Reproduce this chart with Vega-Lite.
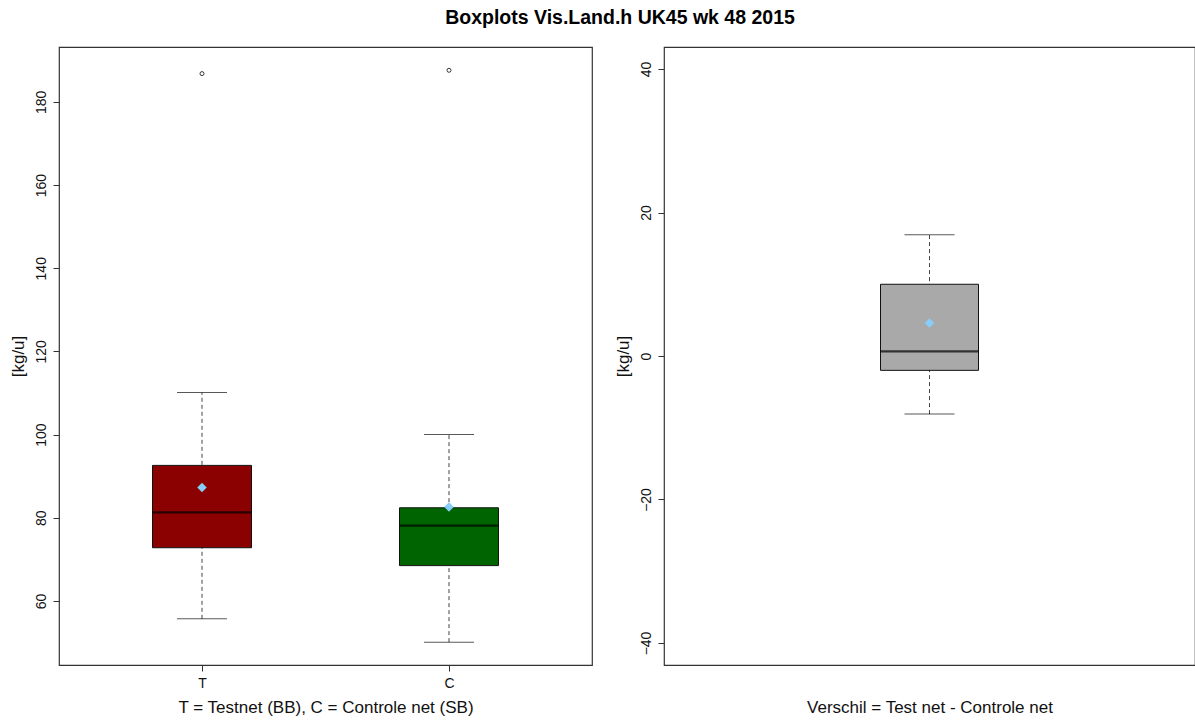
{
  "$schema": "https://vega.github.io/schema/vega-lite/v6.json",
  "background": "white",
  "padding": {"left": 8, "top": 7, "right": 0, "bottom": 0},
  "config": {
    "font": "Liberation Sans",
    "view": {"stroke": "#333", "strokeWidth": 1.2},
    "axis": {"domain": false, "grid": false, "tickColor": "#333", "tickSize": 6, "labelColor": "#111", "titleColor": "#111", "labelFontSize": 14, "titleFontSize": 17, "titleFontWeight": "normal", "labelFont": "Liberation Sans", "titleFont": "Liberation Sans"},
    "concat": {"spacing": 20}
  },
  "title": {"text": "Boxplots Vis.Land.h UK45 wk 48 2015", "fontSize": 19.5, "fontWeight": "bold", "anchor": "middle", "color": "#000", "offset": 18, "dx": 18},
  "resolve": {"scale": {"color": "independent"}},
  "datasets": {
    "groups": [
      {"grp": "T", "lower": 55.7, "q1": 72.8, "median": 81.3, "q3": 92.6, "upper": 110.1, "mean": 87.3},
      {"grp": "C", "lower": 50.1, "q1": 68.5, "median": 78.1, "q3": 82.4, "upper": 100.0, "mean": 82.6}
    ],
    "outliers": [
      {"grp": "T", "value": 186.8},
      {"grp": "C", "value": 187.6}
    ],
    "diff": [
      {"grp": "Verschil", "lower": -8.1, "q1": -2.0, "median": 0.65, "q3": 10.0, "upper": 16.9, "mean": 4.6}
    ],
    "zero": [{"y": 0}]
  },
  "hconcat": [
    {
      "width": 533,
      "height": 618,
      "encoding": {
        "x": {"field": "grp", "type": "nominal", "scale": {"type": "point", "domain": ["T", "C"], "padding": 0.579},
              "axis": {"title": "T = Testnet (BB), C = Controle net (SB)", "labelAngle": 0, "labelPadding": 5, "titlePadding": 9}}
      },
      "layer": [
        {
          "data": {"name": "groups"},
          "mark": {"type": "rule", "strokeDash": [4, 3], "color": "#444", "strokeWidth": 1},
          "encoding": {
            "y": {"field": "lower", "type": "quantitative", "scale": {"domain": [44.6, 193.2], "nice": false, "zero": false},
                  "axis": {"title": "[kg/u]", "values": [60, 80, 100, 120, 140, 160, 180], "labelAngle": -90, "labelAlign": "center", "labelBaseline": "bottom", "labelPadding": 5, "titlePadding": 7}},
            "y2": {"field": "upper"}
          }
        },
        {
          "data": {"name": "groups"},
          "mark": {"type": "bar", "size": 99, "stroke": "#111", "strokeWidth": 1},
          "encoding": {
            "y": {"field": "q1", "type": "quantitative"},
            "y2": {"field": "q3"},
            "color": {"field": "grp", "type": "nominal", "scale": {"domain": ["T", "C"], "range": ["#8B0000", "#006400"]}, "legend": null}
          }
        },
        {
          "data": {"name": "groups"},
          "mark": {"type": "tick", "size": 99, "thickness": 2.2, "color": "#000"},
          "encoding": {"y": {"field": "median", "type": "quantitative"}}
        },
        {
          "data": {"name": "groups"},
          "mark": {"type": "tick", "size": 50, "thickness": 1, "color": "#111"},
          "encoding": {"y": {"field": "upper", "type": "quantitative"}}
        },
        {
          "data": {"name": "groups"},
          "mark": {"type": "tick", "size": 50, "thickness": 1, "color": "#111"},
          "encoding": {"y": {"field": "lower", "type": "quantitative"}}
        },
        {
          "data": {"name": "groups"},
          "mark": {"type": "point", "shape": "diamond", "filled": true, "size": 90, "color": "#87CEFA", "opacity": 1},
          "encoding": {"y": {"field": "mean", "type": "quantitative"}}
        },
        {
          "data": {"name": "outliers"},
          "mark": {"type": "point", "shape": "circle", "filled": false, "size": 16, "color": "#222", "strokeWidth": 0.9, "opacity": 1},
          "encoding": {"y": {"field": "value", "type": "quantitative"}}
        }
      ]
    },
    {
      "width": 531,
      "height": 618,
      "encoding": {
        "x": {"field": "grp", "type": "nominal", "scale": {"type": "point", "domain": ["Verschil"], "padding": 0.5},
              "axis": {"title": "Verschil = Test net - Controle net", "labels": false, "ticks": false, "labelPadding": 0, "titlePadding": 34}}
      },
      "layer": [
        {
          "data": {"name": "diff"},
          "mark": {"type": "rule", "strokeDash": [4, 3], "color": "#444", "strokeWidth": 1},
          "encoding": {
            "y": {"field": "lower", "type": "quantitative", "scale": {"domain": [-43.07, 43.07], "nice": false, "zero": false},
                  "axis": {"title": "[kg/u]", "values": [-40, -20, 0, 20, 40], "labelAngle": -90, "labelAlign": "center", "labelBaseline": "bottom", "labelPadding": 5, "titlePadding": 7}},
            "y2": {"field": "upper"}
          }
        },
        {
          "data": {"name": "diff"},
          "mark": {"type": "bar", "size": 98, "stroke": "#111", "strokeWidth": 1},
          "encoding": {
            "y": {"field": "q1", "type": "quantitative"},
            "y2": {"field": "q3"},
            "color": {"field": "grp", "type": "nominal", "scale": {"domain": ["Verschil"], "range": ["#A9A9A9"]}, "legend": null}
          }
        },
        {
          "data": {"name": "diff"},
          "mark": {"type": "tick", "size": 98, "thickness": 2.2, "color": "#000"},
          "encoding": {"y": {"field": "median", "type": "quantitative"}}
        },
        {
          "data": {"name": "diff"},
          "mark": {"type": "tick", "size": 50, "thickness": 1, "color": "#111"},
          "encoding": {"y": {"field": "upper", "type": "quantitative"}}
        },
        {
          "data": {"name": "diff"},
          "mark": {"type": "tick", "size": 50, "thickness": 1, "color": "#111"},
          "encoding": {"y": {"field": "lower", "type": "quantitative"}}
        },
        {
          "data": {"name": "zero"},
          "mark": {"type": "rule", "strokeDash": [1, 2], "color": "#7a7aa8", "strokeWidth": 1},
          "encoding": {"y": {"field": "y", "type": "quantitative"}}
        },
        {
          "data": {"name": "diff"},
          "mark": {"type": "point", "shape": "diamond", "filled": true, "size": 90, "color": "#87CEFA", "opacity": 1},
          "encoding": {"y": {"field": "mean", "type": "quantitative"}}
        }
      ]
    }
  ]
}
